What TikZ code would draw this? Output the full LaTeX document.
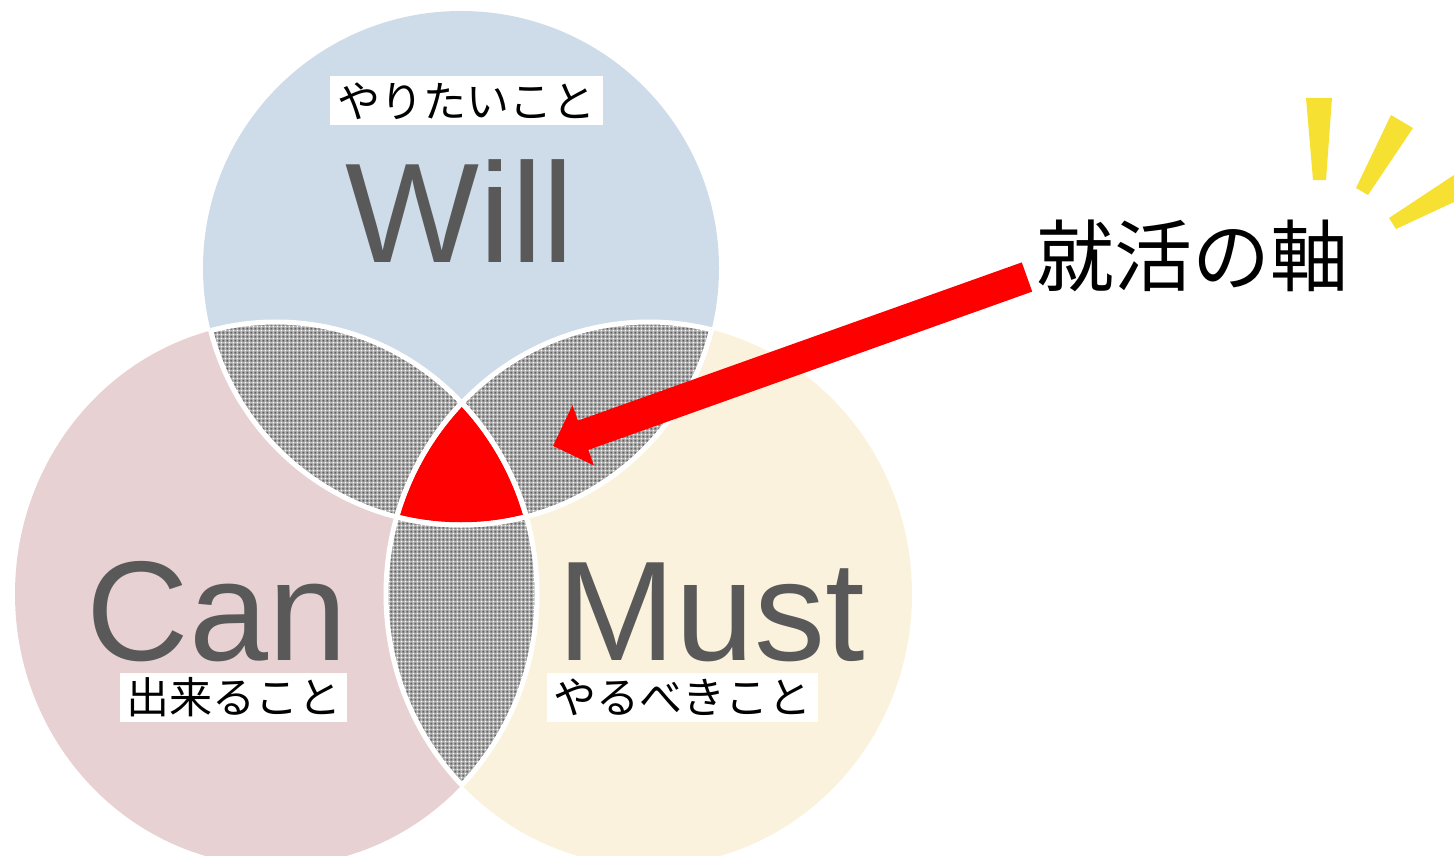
\documentclass[tikz,border=0pt]{standalone}
\usepackage{fontspec}
\setmainfont{Liberation Sans}
\newfontfamily\cjk{Noto Sans CJK JP}
\usetikzlibrary{patterns,arrows.meta}
\definecolor{willc}{RGB}{206,219,232}
\definecolor{canc}{RGB}{232,209,211}
\definecolor{mustc}{RGB}{251,242,221}
\definecolor{txtg}{RGB}{89,89,89}
\definecolor{rayy}{RGB}{246,224,50}
\definecolor{lensbase}{RGB}{185,185,185}
\definecolor{lensdk}{RGB}{100,100,100}
\pgfdeclarepatternformonly{lensdark}{\pgfpointorigin}{\pgfpoint{4.4pt}{4.4pt}}{\pgfpoint{4.4pt}{4.4pt}}{%
  \pgfpathrectangle{\pgfpoint{0.4pt}{0.4pt}}{\pgfpoint{2.4pt}{2.4pt}}\pgfusepath{fill}}
\pgfdeclarepatternformonly{lenslight}{\pgfpointorigin}{\pgfpoint{4.4pt}{4.4pt}}{\pgfpoint{4.4pt}{4.4pt}}{%
  \pgfpathrectangle{\pgfpoint{3.2pt}{3.2pt}}{\pgfpoint{1.1pt}{1.1pt}}\pgfusepath{fill}}
\tikzset{
  lens/.style={fill=lensbase, postaction={pattern=lensdark, pattern color=lensdk},
    postaction={pattern=lenslight, pattern color=white}},
  border/.style={draw=white, line width=5pt},
  big/.style={text=txtg, font=\fontsize{142}{142}\selectfont, anchor=base, inner sep=0pt},
  jlabel/.style={fill=white, inner sep=0pt, font=\cjk\fontsize{43}{43}\selectfont, minimum height=49pt},
  ray/.style={fill=rayy, draw=none},
  pointer/.style={draw=red, line width=31pt, -{Triangle[length=32pt,width=62pt]}},
}
\begin{document}
\begin{tikzpicture}[x=1pt,y=-1pt]
\useasboundingbox (0,0) rectangle (1454,856);
\coordinate (W) at (461,268);
\coordinate (C) at (276,594);
\coordinate (M) at (649,594);
% circles
\fill[canc] (C) ellipse [x radius=261pt, y radius=272pt];
\fill[mustc] (M) ellipse [x radius=263pt, y radius=272pt];
\fill[willc] (W) ellipse [x radius=258pt, y radius=257pt];
% lenses
\begin{scope}
  \clip (W) ellipse [x radius=258pt, y radius=257pt];
  \fill[lens] (C) ellipse [x radius=261pt, y radius=272pt];
  \fill[lens] (M) ellipse [x radius=263pt, y radius=272pt];
\end{scope}
\begin{scope}
  \clip (C) ellipse [x radius=261pt, y radius=272pt];
  \fill[lens] (M) ellipse [x radius=263pt, y radius=272pt];
\end{scope}
% core
\begin{scope}
  \clip (W) ellipse [x radius=258pt, y radius=257pt];
  \clip (C) ellipse [x radius=261pt, y radius=272pt];
  \fill[red] (M) ellipse [x radius=263pt, y radius=272pt];
\end{scope}
% white borders
\begin{scope}
  \clip (C) ellipse [x radius=261pt, y radius=272pt];
  \draw[border] (W) ellipse [x radius=258pt, y radius=257pt];
  \draw[border] (M) ellipse [x radius=263pt, y radius=272pt];
\end{scope}
\begin{scope}
  \clip (M) ellipse [x radius=263pt, y radius=272pt];
  \draw[border] (W) ellipse [x radius=258pt, y radius=257pt];
  \draw[border] (C) ellipse [x radius=261pt, y radius=272pt];
\end{scope}
\begin{scope}
  \clip (W) ellipse [x radius=258pt, y radius=257pt];
  \draw[border] (C) ellipse [x radius=261pt, y radius=272pt];
  \draw[border] (M) ellipse [x radius=263pt, y radius=272pt];
\end{scope}
% big words
\node[big] (will) at (460,262) {Will};
\node[big] (can) at (217,660) {Can};
\node[big] (must) at (711,660) {Must};
% japanese labels
\node[jlabel, minimum width=273pt] (wantlbl) at (466.5,101) {やりたいこと};
\node[jlabel, minimum width=227pt] (canlbl) at (233.5,697) {出来ること};
\node[jlabel, minimum width=271pt] (mustlbl) at (682.5,697) {やるべきこと};
% title
\node[font=\cjk\fontsize{78}{78}\selectfont, inner sep=0pt] (axis) at (1192,256) {就活の軸};
% arrow
\coordinate (tail) at (1027,277);
\coordinate (tip) at (553,446);
\draw[pointer] (tail) -- (tip);
% rays
\fill[ray] (1306,98) -- (1332,98) -- (1326,180) -- (1313,180) -- cycle;
\fill[ray] (1391,115) -- (1413,128) -- (1368,195) -- (1356,188) -- cycle;
\fill[ray] (1389,218) -- (1454,175) -- (1454,202) -- (1396,229) -- cycle;
\end{tikzpicture}
\end{document}
